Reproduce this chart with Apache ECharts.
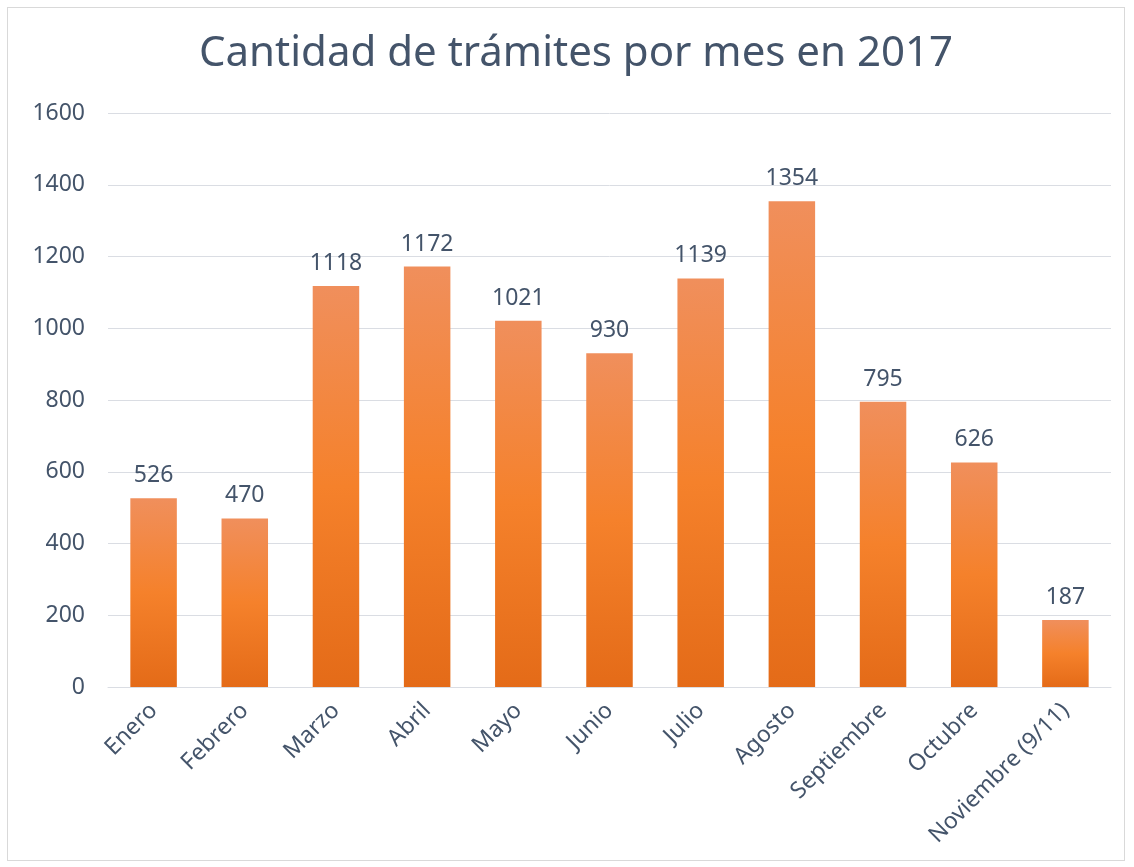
<!DOCTYPE html>
<html>
<head>
<meta charset="utf-8">
<script src="https://cdn.jsdelivr.net/npm/echarts@6/dist/echarts.min.js"></script>
<style>
  html, body { margin: 0; padding: 0; background: #fff; }
  #chart { position: absolute; left: 7px; top: 7px; width: 1118px; height: 854px; border: 1px solid #D9D9D9; box-sizing: border-box; }
</style>
</head>
<body>
<div id="chart"></div>
<script>
// datos
const meses = ['Enero', 'Febrero', 'Marzo', 'Abril', 'Mayo', 'Junio', 'Julio', 'Agosto', 'Septiembre', 'Octubre', 'Noviembre (9/11)'];
const tramites = [526, 470, 1118, 1172, 1021, 930, 1139, 1354, 795, 626, 187];
const yTicks = [0, 200, 400, 600, 800, 1000, 1200, 1400, 1600];

const textColor = '#44546A';
const font = '"Noto Sans", sans-serif';

let chart = echarts.init(document.getElementById('chart'));
chart.setOption({
  animation: false,
  title: {
    text: 'Cantidad de trámites por mes en 2017',
    left: 186,
    top: 20,
    textStyle: { color: textColor, fontSize: 42, fontWeight: 'normal', fontFamily: font }
  },
  grid: {
    top: 105,
    left: 100,
    right: 13,
    bottom: 173
  },
  xAxis: {
    type: 'category',
    data: meses,
    axisLine: { lineStyle: { color: '#DADDE3' } },
    axisTick: { show: false },
    axisLabel: {
      rotate: 45,
      margin: 20,
      interval: 0,
      color: textColor,
      fontSize: 23,
      fontFamily: font
    }
  },
  yAxis: {
    type: 'value',
    min: yTicks[0],
    max: yTicks[yTicks.length - 1],
    interval: 200,
    axisLine: { show: false },
    axisTick: { show: false },
    splitLine: { lineStyle: { color: '#DADDE3', width: 1 } },
    axisLabel: {
      color: textColor, fontSize: 23, margin: 23, fontFamily: font,
      formatter: function (v) { return String(v); }
    }
  },
  series: [{
    type: 'bar',
    data: tramites,
    barWidth: '51%',
    itemStyle: {
      color: {
        type: 'linear', x: 0, y: 0, x2: 0, y2: 1,
        colorStops: [
          { offset: 0, color: '#F08F5C' },
          { offset: 0.5, color: '#F5812B' },
          { offset: 1, color: '#E46B18' }
        ],
        global: false
      }
    },
    label: {
      show: true,
      position: 'top',
      distance: 11,
      color: textColor,
      fontSize: 23,
      fontFamily: font
    }
  }]
});
</script>
</body>
</html>
